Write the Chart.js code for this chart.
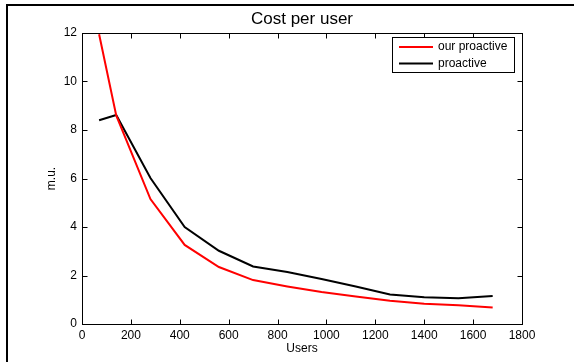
<!DOCTYPE html>
<html>
<head>
<meta charset="utf-8">
<script src="https://cdn.jsdelivr.net/npm/chart.js"></script>
<style>
  html, body { margin: 0; padding: 0; background: #fff; overflow: hidden; }
  #wrap { position: relative; width: 574px; height: 362px; overflow: hidden; }
  #frame { position: absolute; left: 6px; top: 4px; width: 700px; height: 500px;
           border-left: 2px solid #000; border-top: 2px solid #000; }
  canvas { position: absolute; left: 0; top: 0; }
</style>
</head>
<body>
<div id="wrap">
  <div id="frame"></div>
  <canvas id="chart" width="574" height="362"></canvas>
</div>
<script>
// 데이터
const usersOur = [70, 140, 280, 420, 560, 700, 840, 980, 1120, 1260, 1400, 1540, 1680];
const costOur = [11.95, 8.6, 5.15, 3.26, 2.35, 1.81, 1.55, 1.32, 1.13, 0.96, 0.84, 0.77, 0.68];

const usersPro = [70, 140, 280, 420, 560, 700, 840, 980, 1120, 1260, 1400, 1540, 1680];
const costPro = [8.4, 8.62, 6.02, 4.0, 3.02, 2.37, 2.14, 1.86, 1.55, 1.22, 1.1, 1.06, 1.15];

const xTicks = [0, 200, 400, 600, 800, 1000, 1200, 1400, 1600, 1800];
const yTicks = [0, 2, 4, 6, 8, 10, 12];

const FONT = "'Liberation Sans', Arial, sans-serif";

function toPoints(xs, ys) {
  return xs.map((x, i) => ({ x: x, y: ys[i] }));
}

// 박스 + 안쪽 눈금 (matlab 스타일)
const boxPlugin = {
  id: 'boxTicks',
  afterDatasetsDraw(chart) {
    const { ctx, chartArea: a, scales } = chart;
    const L = Math.round(a.left) + 0.5, R = Math.round(a.right) + 0.5;
    const T = Math.round(a.top) + 0.5, B = Math.round(a.bottom) + 0.5;
    const len = 5;
    ctx.save();
    ctx.strokeStyle = '#000';
    ctx.lineWidth = 1;
    ctx.strokeRect(L, T, R - L, B - T);
    ctx.beginPath();
    xTicks.forEach(v => {
      const px = Math.round(scales.x.getPixelForValue(v)) + 0.5;
      ctx.moveTo(px, B); ctx.lineTo(px, B - len);
      ctx.moveTo(px, T); ctx.lineTo(px, T + len);
    });
    yTicks.forEach(v => {
      const py = Math.round(scales.y.getPixelForValue(v)) + 0.5;
      ctx.moveTo(L, py); ctx.lineTo(L + len, py);
      ctx.moveTo(R, py); ctx.lineTo(R - len, py);
    });
    ctx.stroke();
    ctx.restore();
  }
};

// 범례 (플롯 안 오른쪽 위)
const legendPlugin = {
  id: 'boxLegend',
  afterDraw(chart) {
    const ctx = chart.ctx;
    const bx = 392.5, by = 37.5, bw = 122, bh = 35;
    ctx.save();
    ctx.fillStyle = '#fff';
    ctx.fillRect(bx, by, bw, bh);
    ctx.strokeStyle = '#000';
    ctx.lineWidth = 1;
    ctx.strokeRect(bx, by, bw, bh);
    ctx.font = '12px ' + FONT;
    ctx.textBaseline = 'middle';
    chart.data.datasets.forEach((ds, i) => {
      const y = 47 + i * 16.5;
      ctx.strokeStyle = ds.borderColor;
      ctx.lineWidth = 2;
      ctx.beginPath();
      ctx.moveTo(399, y); ctx.lineTo(433, y);
      ctx.stroke();
      ctx.fillStyle = '#000';
      ctx.fillText(ds.label, 438, y);
    });
    ctx.restore();
  }
};

new Chart(document.getElementById('chart'), {
  type: 'line',
  data: {
    datasets: [
      {
        label: 'our proactive',
        data: toPoints(usersOur, costOur),
        borderColor: '#ff0000',
        borderWidth: 2,
        pointRadius: 0,
        tension: 0,
        fill: false
      },
      {
        label: 'proactive',
        data: toPoints(usersPro, costPro),
        borderColor: '#000000',
        borderWidth: 2,
        pointRadius: 0,
        tension: 0,
        fill: false
      }
    ]
  },
  options: {
    responsive: false,
    animation: false,
    layout: { padding: { left: 0, right: 52, top: 0, bottom: 0 } },
    plugins: {
      legend: { display: false },
      tooltip: { enabled: false },
      title: {
        display: true,
        fullSize: false,
        text: 'Cost per user',
        color: '#000',
        font: { family: FONT, size: 17, weight: 'normal' },
        padding: { top: 8.8, bottom: 3.8 }
      }
    },
    scales: {
      x: {
        type: 'linear',
        min: 0,
        max: 1800,
        afterBuildTicks(scale) { scale.ticks = xTicks.map(v => ({ value: v })); },
        afterFit(scale) { scale.height = 38; },
        grid: { display: false, drawTicks: false },
        border: { display: false },
        ticks: {
          color: '#000', padding: 4, maxRotation: 0,
          font: { family: FONT, size: 12 },
          callback: v => String(v)
        },
        title: {
          display: true, text: 'Users', color: '#000',
          font: { family: FONT, size: 12 }, padding: { top: 0, bottom: 5.8 }
        }
      },
      y: {
        min: 0,
        max: 12,
        afterBuildTicks(scale) { scale.ticks = yTicks.map(v => ({ value: v })); },
        afterFit(scale) { scale.width = 82; },
        grid: { display: false, drawTicks: false },
        border: { display: false },
        ticks: {
          color: '#000', padding: 5,
          font: { family: FONT, size: 12 },
          callback: v => String(v)
        },
        title: {
          display: true, text: 'm.u.', color: '#000',
          font: { family: FONT, size: 12 }, padding: { top: 44.8, bottom: 0 }
        }
      }
    }
  },
  plugins: [boxPlugin, legendPlugin]
});
</script>
</body>
</html>
